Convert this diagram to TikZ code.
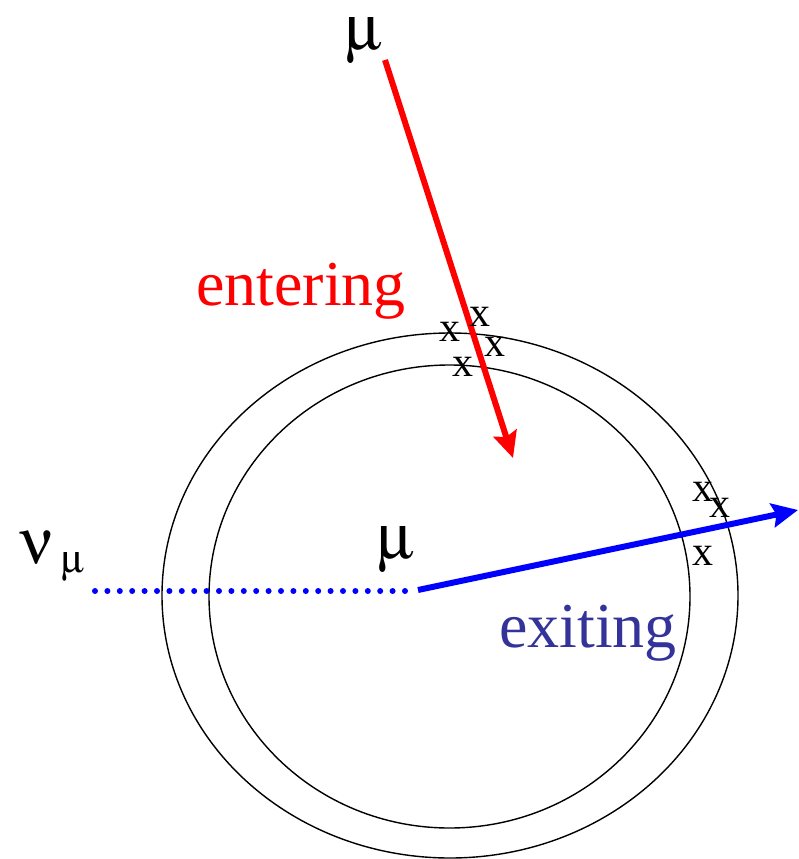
\documentclass[tikz,border=0pt]{standalone}
\usepackage[Symbol]{upgreek}
\usepackage{fontspec}
\setmainfont{Liberation Serif}
\usetikzlibrary{arrows.meta}
\begin{document}
\begin{tikzpicture}[x=1pt,y=-1pt,
  ring/.style={draw=black,line width=1.4pt},
  bigtxt/.style={font=\fontsize{64}{70}\selectfont,inner sep=0pt,anchor=base},
  hitmark/.style={font=\fontsize{42}{46}\selectfont,inner sep=0pt,anchor=center},
  track/.style={line width=6pt,-{Stealth[length=26pt,width=24pt,inset=4pt]}}]
\useasboundingbox (0,0) rectangle (798,859);
% detector rings
\draw[ring] (450,595.5) ellipse [x radius=288pt, y radius=262.5pt];
\draw[ring] (449.5,596.5) ellipse [x radius=240.5pt, y radius=231.5pt];
% endpoints
\coordinate (rs) at (385,60);
\coordinate (re) at (513,458);
\coordinate (bs) at (418,590);
\coordinate (be) at (798,510);
\coordinate (ds) at (95,591);
\coordinate (de) at (405,591);
% tracks
\draw[blue,line width=6pt,line cap=round,dash pattern=on 0pt off 12.4pt] (ds) -- (de);
\draw[track,red] (rs) -- (re);
\draw[track,blue] (bs) -- (be);
% labels
\node[bigtxt] (mutop) at (364,50) {$\upmu$};
\node[bigtxt] (muc) at (396,558) {$\upmu$};
\node[bigtxt] (nu) at (37,563) {$\upnu$};
\node[font=\fontsize{40}{44}\selectfont,inner sep=0pt,anchor=base] (nusub) at (73,572) {$\upmu$};
\node[bigtxt,text=red] (ent) at (301,305) {entering};
\node[bigtxt,text={rgb,255:red,51;green,51;blue,153}] (exi) at (588,647) {exiting};
% hits
\node[hitmark] (h1) at (450,332) {x};
\node[hitmark] (h2) at (480,317) {x};
\node[hitmark] (h3) at (495,347) {x};
\node[hitmark] (h4) at (463,367) {x};
\node[hitmark] (h5) at (703,492) {x};
\node[hitmark] (h6) at (720,508) {x};
\node[hitmark] (h7) at (703,556) {x};
\end{tikzpicture}
\end{document}
